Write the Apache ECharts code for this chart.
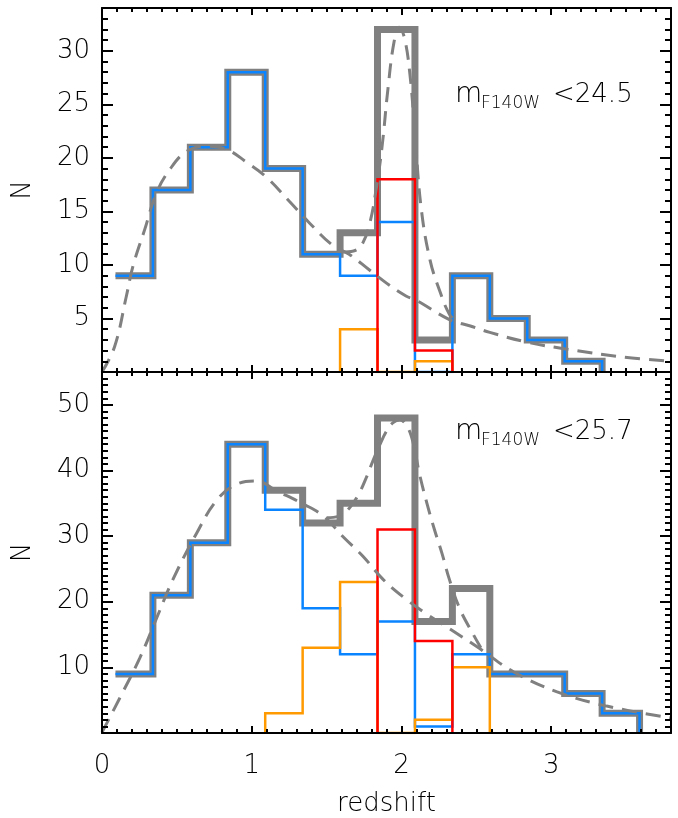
<!DOCTYPE html>
<html><head><meta charset="utf-8">
<script src="https://cdn.jsdelivr.net/npm/echarts@6/dist/echarts.min.js"></script>
<style>html,body{margin:0;padding:0;background:#fff}#c{width:678px;height:818px}</style>
</head><body><div id="c"></div>
<script>
// ---- data ----
const binEdges = [0.09,0.34,0.59,0.84,1.09,1.34,1.59,1.84,2.09,2.34,2.59,2.84,3.09,3.34,3.59];
// top panel: m_F140W < 24.5
const topTotal  = [9,17,21,28,19,11,13,32,3,9,5,3,1,0];
const topBlue   = [9,17,21,28,19,11,9,14,0,9,5,3,1,0];
const topOrange = [0,0,0,0,0,0,4,0,1,0,0,0,0,0];
const topRed    = [0,0,0,0,0,0,0,18,2,0,0,0,0,0];
// bottom panel: m_F140W < 25.7
const botTotal  = [9,21,29,44,37,32,35,48,17,22,9,9,6,3];
const botBlue   = [9,21,29,44,34,19,12,17,1,12,9,9,6,3];
const botOrange = [0,0,0,0,3,13,23,0,2,10,0,0,0,0];
const botRed    = [0,0,0,0,0,0,0,31,14,0,0,0,0,0];
// dashed model curves
const topBroad = [[0,0],[0.085,2.4],[0.163,7.1],[0.207,9.9],[0.285,13.3],[0.363,16.7],[0.452,18.9],[0.564,20.6],[0.70,21.1],[0.831,20.8],[0.965,19.6],[1.098,18.2],[1.254,15.9],[1.387,13.9],[1.543,11.8],[1.65,11.0],[1.78,9.6],[1.90,8.3],[2.03,7.1],[2.10,6.7],[2.32,4.9],[2.46,4.3],[2.59,3.7],[2.835,2.8],[3.12,2.1],[3.48,1.4],[3.8,1.0]];
const topPeak  = [[1.60,11.2],[1.68,11.3],[1.74,12.0],[1.79,14.0],[1.83,17.0],[1.87,21.0],[1.91,26.5],[1.95,30.8],[1.985,32.2],[2.02,31.2],[2.055,28.0],[2.09,22.3],[2.13,15.5],[2.19,10.5],[2.26,7.4],[2.32,5.4],[2.38,4.5]];
const botBroad = [[0,0.1],[0.118,5.3],[0.252,11.4],[0.363,17.4],[0.474,23.4],[0.631,30.4],[0.764,35.4],[0.898,37.9],[1.031,38.4],[1.165,36.9],[1.343,34.9],[1.476,33.1],[1.61,29.9],[1.744,26.9],[1.877,23.4],[2.03,20.4],[2.17,18.1],[2.32,15.9],[2.52,12.9],[2.75,9.3],[3.035,6.3],[3.37,4.1],[3.8,2.3]];
const botPeak  = [[1.50,32.8],[1.58,33.0],[1.65,34.2],[1.71,36.2],[1.765,38.9],[1.81,41.5],[1.855,43.9],[1.90,46.0],[1.944,47.3],[1.99,47.7],[2.035,46.8],[2.076,44.4],[2.12,39.5],[2.17,35.0],[2.22,31.0],[2.27,27.4],[2.32,23.4],[2.39,18.9],[2.48,15.0],[2.53,13.0]];
const xRange = [0, 3.8];
const topYRange = [0, 34];
const botYRange = [0, 55];
const labelTop = ['m','F140W','<24.5'];
const labelBot = ['m','F140W','<25.7'];

// ---- helpers ----
function steps(vals){
  const first = vals.findIndex(v => v > 0);
  let last = vals.length - 1;
  while (last >= 0 && vals[last] === 0) last--;
  const pts = [];
  if (first > 0) pts.push([binEdges[first], 0]);
  for (let i = first; i <= last; i++) {
    pts.push([binEdges[i], vals[i]]);
    pts.push([binEdges[i+1], vals[i]]);
  }
  pts.push([binEdges[last+1], 0]);
  return pts;
}
const FONT = 'DejaVu Sans';
const lbl = {color:'#000', fontFamily:FONT, fontSize:26, fontWeight:200};
const tickStyle = {color:'#000', width:2};

// Order matters: ECharts allows one axis per side, a second request for a side flips to the opposite.
function xAxes(g, labels){
  const base = {gridIndex:g, type:'value', min:xRange[0], max:xRange[1], splitLine:{show:false}, z:10};
  return [
    Object.assign({}, base, {position:'bottom', interval:1,
      axisLine:{show:true, onZero:false, lineStyle:{color:'#000', width:2}},
      axisTick:{show:true, inside:true, length:7, lineStyle:tickStyle},
      axisLabel:{show:labels, margin:20, showMaxLabel:false, ...lbl},
      name: labels ? 'redshift' : '', nameLocation:'middle', nameGap:58,
      nameTextStyle:{...lbl, fontSize:26}}),
    Object.assign({}, base, {position:'top', interval:1,
      axisLine:{show:true, onZero:false, lineStyle:{color:'#000', width:2}}, axisLabel:{show:false},
      axisTick:{show:true, inside:true, length:7, lineStyle:tickStyle}}),
    Object.assign({}, base, {position:'bottom', interval:0.1,
      axisLine:{show:false, onZero:false}, axisLabel:{show:false},
      axisTick:{show:true, inside:true, length:4, lineStyle:tickStyle}}),
    Object.assign({}, base, {position:'top', interval:0.1,
      axisLine:{show:false, onZero:false}, axisLabel:{show:false},
      axisTick:{show:true, inside:true, length:4, lineStyle:tickStyle}})
  ];
}
function yAxes(g, range, major){
  const base = {gridIndex:g, type:'value', min:range[0], max:range[1], splitLine:{show:false}, z:10};
  return [
    Object.assign({}, base, {position:'left', interval:major,
      axisLine:{show:true, onZero:false, lineStyle:{color:'#000', width:2}},
      axisTick:{show:true, inside:true, length:11, lineStyle:tickStyle},
      axisLabel:{show:true, margin:12, showMinLabel:false, showMaxLabel:false, ...lbl},
      name:'N', nameLocation:'middle', nameGap:66, nameRotate:90, nameTextStyle:{...lbl}}),
    Object.assign({}, base, {position:'right', interval:major,
      axisLine:{show:true, onZero:false, lineStyle:{color:'#000', width:2}}, axisLabel:{show:false},
      axisTick:{show:true, inside:true, length:11, lineStyle:tickStyle}}),
    Object.assign({}, base, {position:'left', interval:1,
      axisLine:{show:false, onZero:false}, axisLabel:{show:false},
      axisTick:{show:true, inside:true, length:6, lineStyle:tickStyle}}),
    Object.assign({}, base, {position:'right', interval:1,
      axisLine:{show:false, onZero:false}, axisLabel:{show:false},
      axisTick:{show:true, inside:true, length:6, lineStyle:tickStyle}})
  ];
}
function histSeries(xi, yi, data, color, width, z){
  return {type:'line', xAxisIndex:xi, yAxisIndex:yi, data:steps(data), symbol:'none',
    lineStyle:{color:color, width:width, join:'miter', cap:'butt'}, z:z, silent:true, clip:true};
}
function curveSeries(xi, yi, data){
  return {type:'line', xAxisIndex:xi, yAxisIndex:yi, data:data, symbol:'none', smooth:0.4,
    lineStyle:{color:'#808080', width:3, type:[15,9]}, z:6, silent:true, clip:true};
}
function annot(parts, yMain, ySub){
  const s = {fill:'#000', fontFamily:FONT, fontWeight:200, verticalAlign:'middle'};
  return [
    {type:'text', x:455, y:yMain, style:Object.assign({text:parts[0], fontSize:28}, s)},
    {type:'text', x:481, y:ySub, style:Object.assign({text:parts[1], fontSize:17}, s)},
    {type:'text', x:553, y:yMain, style:Object.assign({text:parts[2], fontSize:26}, s)}
  ];
}

const GRAY = '#808080', BLUE = '#0a84ff', ORANGE = '#ff9a00', RED = '#ff0000';
const option = {
  animation:false,
  backgroundColor:'#fff',
  grid:[
    {left:102, top:8, width:569, height:364},
    {left:102, top:372, width:569, height:366.5}
  ],
  xAxis: xAxes(0, false).concat(xAxes(1, true)),
  yAxis: yAxes(0, topYRange, 5).concat(yAxes(1, botYRange, 10)),
  series:[
    histSeries(0,0, topTotal, GRAY, 7, 2),
    histSeries(0,0, topBlue, BLUE, 2.5, 3),
    histSeries(0,0, topOrange, ORANGE, 2.5, 4),
    histSeries(0,0, topRed, RED, 2.5, 5),
    curveSeries(0,0, topBroad),
    curveSeries(0,0, topPeak),
    histSeries(4,4, botTotal, GRAY, 7, 2),
    histSeries(4,4, botBlue, BLUE, 2.5, 3),
    histSeries(4,4, botOrange, ORANGE, 2.5, 4),
    histSeries(4,4, botRed, RED, 2.5, 5),
    curveSeries(4,4, botBroad),
    curveSeries(4,4, botPeak)
  ],
  graphic: annot(labelTop, 95, 104).concat(annot(labelBot, 432, 441))
};
const chart = echarts.init(document.getElementById('c'), null, {renderer:'canvas'});
chart.setOption(option);
</script></body></html>
